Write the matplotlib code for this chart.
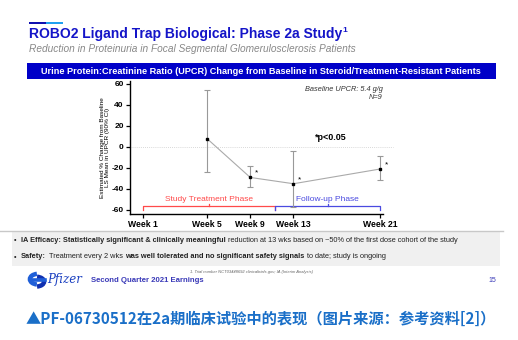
import numpy as np
import matplotlib.pyplot as plt
from matplotlib.patches import Rectangle, Arc

plt.rcParams['font.family'] = ['Liberation Sans', 'DejaVu Sans']

# UPCR change from baseline, LS mean with 90% CI
weeks = [5, 9, 13, 21]
ls_mean = [8, -29, -35, -21]
ci_low = [-24, -38, -57, -31]
ci_high = [54, -18, -4, -9]
significant = [False, True, True, True]

tick_weeks = [1, 5, 9, 13, 21]
tick_labels = ['Week 1', 'Week 5', 'Week 9', 'Week 13', 'Week 21']
y_ticks = [60, 40, 20, 0, -20, -40, -60]

treat_phase = (1, 11.3)
follow_phase = (11.3, 21)

W, H = 518, 340
fig = plt.figure(figsize=(W / 100, H / 100), dpi=100)
fig.patch.set_facecolor('white')
renderer = fig.canvas.get_renderer()


def fx(px):
    return px / W


def fy(py):
    return 1 - py / H


def text_width(s, **kw):
    t = fig.text(0, 0, s, **kw)
    w = t.get_window_extent(renderer).width
    t.remove()
    return w


def rich_text(x, y, parts, **kw):
    # 逐段拼接普通/粗体文字，空格单独计宽
    space = text_width('x x', **kw) - text_width('xx', **kw)
    for s, bold in parts:
        weight = 'bold' if bold else 'normal'
        core = s.strip()
        x += (len(s) - len(s.lstrip())) * space
        fig.text(fx(x), fy(y), core, fontweight=weight, va='center', **kw)
        x += text_width(core, fontweight=weight, **kw) + 0.6
        x += (len(s) - len(s.rstrip())) * space
    return x


# 标题区
fig.patches.append(Rectangle((fx(29), fy(24)), 17 / W, 2.5 / H, transform=fig.transFigure,
                             color='#1010b0', lw=0))
fig.patches.append(Rectangle((fx(46), fy(24)), 17 / W, 2.5 / H, transform=fig.transFigure,
                             color='#1fa0f0', lw=0))
t = fig.text(fx(29), fy(34), 'ROBO2 Ligand Trap Biological: Phase 2a Study', fontsize=10,
             fontweight='bold', color='#1414c8', va='center')
x_end = 29 + t.get_window_extent(renderer).width
fig.text(fx(x_end + 0.5), fy(31), '1', fontsize=6, fontweight='bold', color='#1414c8', va='center')
fig.text(fx(29), fy(48.5), 'Reduction in Proteinuria in Focal Segmental Glomerulosclerosis Patients',
         fontsize=7.3, style='italic', color='#888888', va='center')

# 蓝色横幅
fig.patches.append(Rectangle((fx(27), fy(79)), 469 / W, 16 / H, transform=fig.transFigure,
                             color='#0000c8', lw=0))
fig.text(fx(261), fy(71), 'Urine Protein:Creatinine Ratio (UPCR) Change from Baseline in '
         'Steroid/Treatment-Resistant Patients', fontsize=6.6, fontweight='bold',
         color='white', ha='center', va='center')


# 周数轴：第1周到第5周之间拉宽
def fwd(x):
    x = np.asarray(x, dtype=float)
    return np.where(x < 5, 5 - (5 - x) * 1.48, x)


def inv(y):
    y = np.asarray(y, dtype=float)
    return np.where(y < 5, 5 - (5 - y) / 1.48, y)


ax = fig.add_axes([fx(130), fy(214.2), 253 / W, 133.4 / H])
ax.set_facecolor('none')
ax.set_xscale('function', functions=(fwd, inv))
ax.set_xlim(0.19, 21.28)
ax.set_ylim(-64, 63)

ax.axhline(0, color='#cccccc', lw=0.6, ls=(0, (1, 1.5)), xmax=1.04, clip_on=False)

ax.plot(weeks, ls_mean, color='#aaaaaa', lw=0.8, zorder=2)
lo = np.array(ls_mean) - np.array(ci_low)
hi = np.array(ci_high) - np.array(ls_mean)
ax.errorbar(weeks, ls_mean, yerr=[lo, hi], fmt='none', ecolor='#999999', elinewidth=0.8,
            capsize=2.5, capthick=0.8, zorder=3)
ax.plot(weeks, ls_mean, 's', color='black', ms=2.0, zorder=4)
for w, m, s in zip(weeks, ls_mean, significant):
    if s:
        ax.annotate('*', (w, m), xytext=(3.5, 0.5), textcoords='offset points', fontsize=6,
                    color='black', va='bottom', ha='left')

ax.text(15.0, 4.5, '*p<0.05', fontsize=6.5, fontweight='bold', va='bottom', ha='left')
ax.text(21.28, 54.5, 'Baseline UPCR: 5.4 g/g', fontsize=5.3, style='italic', ha='right',
        va='center', color='#333333')
ax.text(21.28, 47.5, 'N=9', fontsize=5.3, style='italic', ha='right', va='center',
        color='#333333')


# 阶段括号
def bracket(x0, x1, y, color, label):
    xm = float(inv((fwd(x0) + fwd(x1)) / 2))
    ax.plot([x0, x0, x1, x1], [y - 3.5, y, y, y - 3.5], color=color, lw=0.9, clip_on=False)
    ax.plot([xm, xm], [y, y + 2.5], color=color, lw=0.9)
    ax.text(xm, y + 3.5, label, color=color, fontsize=6, ha='center', va='bottom')


bracket(*treat_phase, -56.5, '#ff4a4a', 'Study Treatment Phase')
bracket(*follow_phase, -56.5, '#4a4ae0', 'Follow-up Phase')

ax.set_xticks(tick_weeks)
ax.set_xticklabels(tick_labels, fontsize=6.2, fontweight='bold')
ax.set_yticks(y_ticks)
ax.set_yticklabels([str(v) for v in y_ticks], fontsize=6, fontweight='bold')
ax.tick_params(axis='both', length=3, width=0.9, pad=1.5)
ax.xaxis.set_minor_locator(plt.NullLocator())
for side in ['top', 'right']:
    ax.spines[side].set_visible(False)
for side in ['left', 'bottom']:
    ax.spines[side].set_linewidth(1.0)
ax.set_ylabel('Estimated % Change from Baseline\nLS Mean in UPCR (90% CI)', fontsize=4.6,
              labelpad=1, linespacing=1.1)

# 要点区
fig.add_artist(plt.Line2D([fx(0), fx(503)], [fy(231), fy(231)], color='#c8c8c8', lw=1))
fig.patches.append(Rectangle((fx(12), fy(266)), 488 / W, 35 / H, transform=fig.transFigure,
                             color='#f0f0f0', lw=0))
bullet_kw = dict(fontsize=5.3, color='#222222')
rich_text(14, 240.5, [('•  ', False),
                      ('IA Efficacy: Statistically significant & clinically meaningful', True),
                      (' reduction at 13 wks based on ~50% of the first dose cohort of the study', False)],
          **bullet_kw)
rich_text(14, 257, [('•  ', False), ('Safety:', True), (' Treatment every 2 wks ', False),
                    ('was well tolerated and no significant safety signals', True),
                    (' to date; study is ongoing', False)], **bullet_kw)

# 页脚：Pfizer 标志
logo = fig.add_axes([fx(27), fy(289), 20 / W, 18 / H])
logo.set_xlim(-1.2, 1.2)
logo.set_ylim(-1.1, 1.1)
logo.axis('off')
logo.add_patch(Arc((0.1, 0.1), 1.9, 1.3, theta1=100, theta2=260, lw=3.2, color='#1f5fd8'))
logo.add_patch(Arc((-0.1, -0.2), 1.9, 1.2, theta1=280, theta2=440, lw=3.2, color='#1030b0'))
logo.plot([-0.7, 0.9], [0.05, 0.05], color='#1f5fd8', lw=2.6)
fig.text(fx(47), fy(280), 'Pfizer', fontsize=8.5, style='italic', family=['DejaVu Serif'],
         color='#1a3fc0', va='center')
fig.text(fx(91), fy(280), 'Second Quarter 2021 Earnings', fontsize=5.6, fontweight='bold',
         color='#3a3ab8', va='center')
fig.text(fx(190), fy(272.5), '1. Trial number NCT03448692 clinicaltrials.gov; IA (Interim Analysis)',
         fontsize=3, style='italic', color='#666666', va='center')
fig.text(fx(488), fy(280), '15', fontsize=5, color='#3a3ab8', va='center')

# 中文图注
fig.text(fx(26), fy(319), '▲PF-06730512在2a期临床试验中的表现（图片来源：参考资料[2]）',
         fontsize=11, fontweight='bold', color='#1a6fc8', va='center',
         family=['Noto Sans CJK SC', 'DejaVu Sans'])

fig.savefig('out.png', dpi=100)
